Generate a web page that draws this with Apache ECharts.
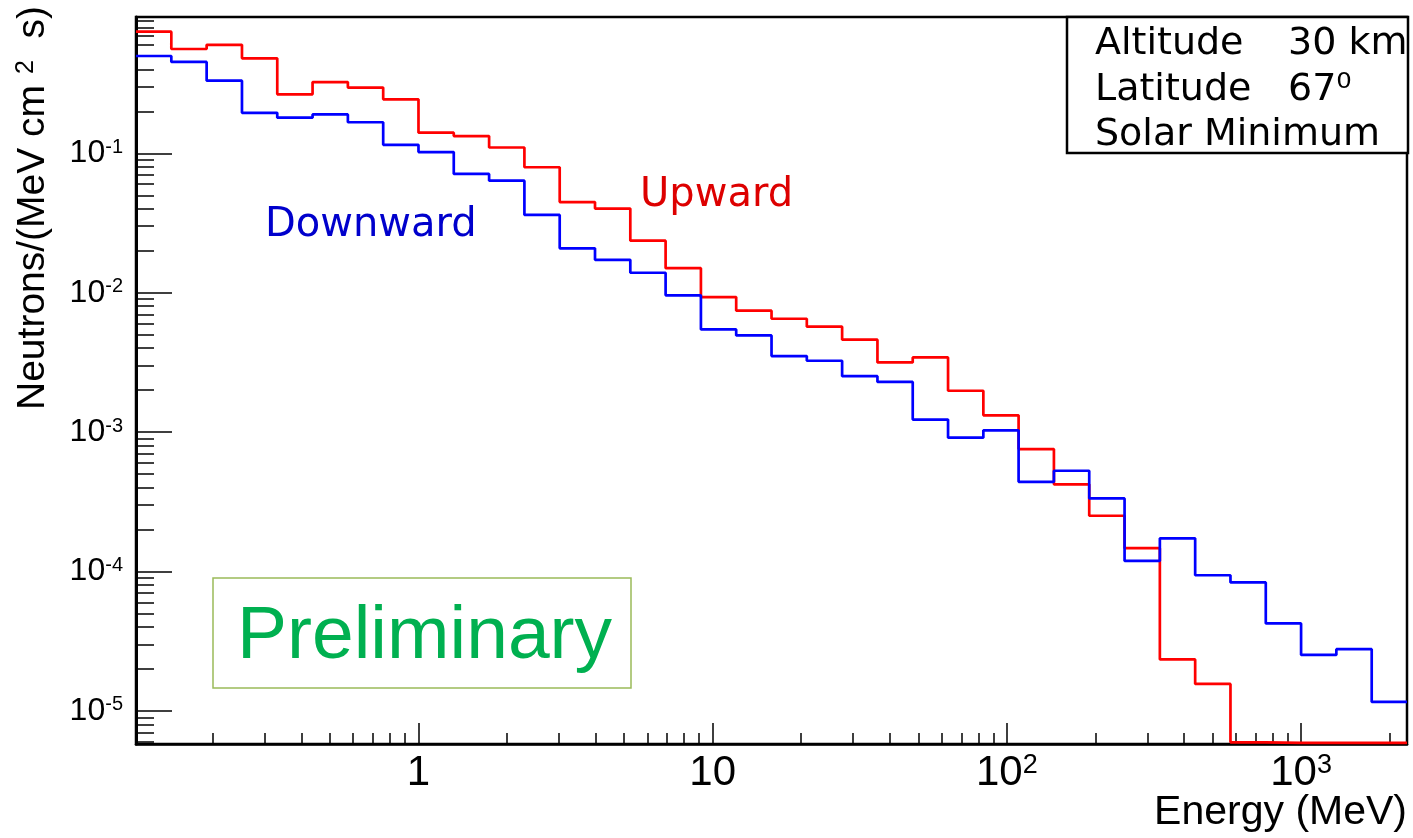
<!DOCTYPE html>
<html>
<head>
<meta charset="utf-8">
<script src="https://cdn.jsdelivr.net/npm/echarts@6/dist/echarts.min.js"></script>
<style>
  html, body { margin: 0; padding: 0; background: #fff; }
  #chart { width: 1413px; height: 838px; }
</style>
</head>
<body>
<div id="chart"></div>
<script>
// bin edges in MeV (36 bins, 0.12 decade wide)
const binEdges = [0.1096, 0.1445, 0.1905, 0.2512, 0.3311, 0.4365, 0.5754, 0.7586, 1,
  1.318, 1.738, 2.291, 3.020, 3.981, 5.248, 6.918, 9.120, 12.02, 15.85, 20.89, 27.54,
  36.31, 47.86, 63.10, 83.18, 109.6, 144.5, 190.5, 251.2, 331.1, 436.5, 575.4, 758.6,
  1000, 1318, 1738, 2291];

const upward = [0.745, 0.56, 0.60, 0.48, 0.265, 0.324, 0.296, 0.244, 0.1406, 0.133,
  0.110, 0.0794, 0.0447, 0.0401, 0.0236, 0.0150, 0.0093, 0.00743, 0.0065, 0.0057,
  0.0046, 0.00316, 0.00343, 0.00198, 0.00132, 0.000755, 0.000422, 0.000251, 0.000147,
  2.34e-5, 1.56e-5, 5.95e-6, 5.9e-6, 5.9e-6, 5.9e-6, 5.9e-6];

const downward = [0.499, 0.452, 0.332, 0.195, 0.180, 0.190, 0.167, 0.115, 0.102, 0.0711,
  0.0636, 0.0361, 0.0208, 0.0172, 0.0139, 0.00957, 0.00545, 0.00494, 0.00351, 0.00325,
  0.00252, 0.00229, 0.00123, 0.000912, 0.00103, 0.00044, 0.000528, 0.000334, 0.000119,
  0.000173, 9.4e-5, 8.34e-5, 4.24e-5, 2.52e-5, 2.77e-5, 1.16e-5];

// axis ticks
const xMajor = [1, 10, 100, 1000];
const xMinor = [0.2, 0.3, 0.4, 0.5, 0.6, 0.7, 0.8, 0.9, 2, 3, 4, 5, 6, 7, 8, 9,
  20, 30, 40, 50, 60, 70, 80, 90, 200, 300, 400, 500, 600, 700, 800, 900, 2000];
const yMajor = [1e-5, 1e-4, 1e-3, 1e-2, 1e-1];
const yMinor = [6e-6, 7e-6, 8e-6, 9e-6, 2e-5, 3e-5, 4e-5, 5e-5, 6e-5, 7e-5, 8e-5, 9e-5,
  2e-4, 3e-4, 4e-4, 5e-4, 6e-4, 7e-4, 8e-4, 9e-4, 2e-3, 3e-3, 4e-3, 5e-3, 6e-3, 7e-3,
  8e-3, 9e-3, 0.02, 0.03, 0.04, 0.05, 0.06, 0.07, 0.08, 0.09, 0.2, 0.3, 0.4, 0.5, 0.6,
  0.7, 0.8, 0.9];

const Y_MIN = 5.786e-6;
const Y_MAX = 0.950;

const FONT = '"Liberation Sans", Arial, sans-serif';
const DEJAVU = '"DejaVu Sans", sans-serif';

// histogram as step line: one point per left edge, last edge repeats last bin
const toSteps = (vals) => binEdges.map((e, i) => [e, vals[Math.min(i, vals.length - 1)]]);

function powLabel(v) {
  const e = Math.round(Math.log10(v));
  if (e === 0) return '{b|1}';
  if (e === 1) return '{b|10}';
  return '{b|10}{s|' + e + '}';
}

const chart = echarts.init(document.getElementById('chart'));

const minorAxis = (type, vals, len) => ({
  type: 'log',
  position: type === 'x' ? 'bottom' : 'left',
  min: type === 'x' ? binEdges[0] : Y_MIN,
  max: type === 'x' ? binEdges[binEdges.length - 1] : Y_MAX,
  axisLine: { show: false },
  axisLabel: { show: false },
  splitLine: { show: false },
  axisTick: {
    show: true, inside: true, length: len, customValues: vals,
    lineStyle: { color: '#000', width: 1.5 },
  },
});

chart.setOption({
  animation: false,
  grid: {
    left: 136, right: 6, top: 17, bottom: 94,
    show: true, borderColor: '#000', borderWidth: 2.5,
  },
  xAxis: [
    {
      type: 'log',
      position: 'bottom',
      min: binEdges[0],
      max: binEdges[binEdges.length - 1],
      axisLine: { show: true, onZero: false, lineStyle: { color: '#000', width: 2.5 } },
      axisTick: {
        show: true, inside: true, length: 21, customValues: xMajor,
        lineStyle: { color: '#000', width: 1.5 },
      },
      axisLabel: {
        customValues: xMajor,
        formatter: powLabel,
        margin: 8,
        rich: {
          b: { fontFamily: FONT, fontSize: 42, color: '#000' },
          s: { fontFamily: FONT, fontSize: 27, color: '#000', verticalAlign: 'top' },
        },
      },
      splitLine: { show: false },
    },
    minorAxis('x', xMinor, 11),
  ],
  yAxis: [
    {
      type: 'log',
      position: 'left',
      min: Y_MIN,
      max: Y_MAX,
      axisLine: { show: true, onZero: false, lineStyle: { color: '#000', width: 3 } },
      axisTick: {
        show: true, inside: true, length: 36, customValues: yMajor,
        lineStyle: { color: '#000', width: 1.5 },
      },
      axisLabel: {
        customValues: yMajor,
        formatter: powLabel,
        margin: 13,
        rich: {
          b: { fontFamily: FONT, fontSize: 32, color: '#000' },
          s: { fontFamily: FONT, fontSize: 20, color: '#000', verticalAlign: 'top' },
        },
      },
      splitLine: { show: false },
    },
    minorAxis('y', yMinor, 18),
  ],
  series: [
    {
      name: 'Upward',
      type: 'line',
      step: 'end',
      symbol: 'none',
      data: toSteps(upward),
      lineStyle: { color: '#ff0000', width: 2.7 },
      itemStyle: { color: '#ff0000' },
      z: 3,
    },
    {
      name: 'Downward',
      type: 'line',
      step: 'end',
      symbol: 'none',
      data: toSteps(downward),
      lineStyle: { color: '#0000ff', width: 2.7 },
      itemStyle: { color: '#0000ff' },
      z: 4,
    },
  ],
  graphic: [
    {
      type: 'text', x: 14, y: 6, rotation: Math.PI / 2,
      style: {
        text: '{a|Neutrons/(MeV cm }{s|2}{a|  s)}',
        align: 'right', verticalAlign: 'top',
        rich: {
          a: { fontFamily: FONT, fontSize: 39, fill: '#000' },
          s: { fontFamily: FONT, fontSize: 25, fill: '#000', verticalAlign: 'top' },
        },
      },
    },
    {
      type: 'text', x: 1407, y: 813,
      style: { text: 'Energy (MeV)', font: '41px ' + FONT, fill: '#000', align: 'right', verticalAlign: 'middle' },
    },
    {
      type: 'text', x: 265, y: 226,
      style: { text: 'Downward', font: '40px ' + DEJAVU, fill: '#0000cc', align: 'left', verticalAlign: 'middle' },
    },
    {
      type: 'text', x: 640, y: 196,
      style: { text: 'Upward', font: '40px ' + DEJAVU, fill: '#dd0000', align: 'left', verticalAlign: 'middle' },
    },
    {
      type: 'rect', z: 100,
      shape: { x: 1067, y: 17, width: 341, height: 136 },
      style: { fill: '#fff', stroke: '#000', lineWidth: 2.5 },
    },
    {
      type: 'text', z: 101, x: 1095, y: 44,
      style: { text: 'Altitude', font: '38px ' + DEJAVU, fill: '#000', verticalAlign: 'middle' },
    },
    {
      type: 'text', z: 101, x: 1288, y: 44,
      style: { text: '30 km', font: '38px ' + DEJAVU, fill: '#000', verticalAlign: 'middle' },
    },
    {
      type: 'text', z: 101, x: 1095, y: 90,
      style: { text: 'Latitude', font: '38px ' + DEJAVU, fill: '#000', verticalAlign: 'middle' },
    },
    {
      type: 'text', z: 101, x: 1288, y: 90,
      style: { text: '67⁰', font: '38px ' + DEJAVU, fill: '#000', verticalAlign: 'middle' },
    },
    {
      type: 'text', z: 101, x: 1095, y: 135,
      style: { text: 'Solar Minimum', font: '38px ' + DEJAVU, fill: '#000', verticalAlign: 'middle' },
    },
    {
      type: 'rect', z: 100,
      shape: { x: 213, y: 578, width: 418, height: 110 },
      style: { fill: 'rgba(255,255,255,0)', stroke: '#9bbb59', lineWidth: 1.5 },
    },
    {
      type: 'text', z: 101, x: 237, y: 637,
      style: { text: 'Preliminary', font: '75px ' + FONT, fill: '#00b050', verticalAlign: 'middle' },
    },
  ],
});
</script>
</body>
</html>
